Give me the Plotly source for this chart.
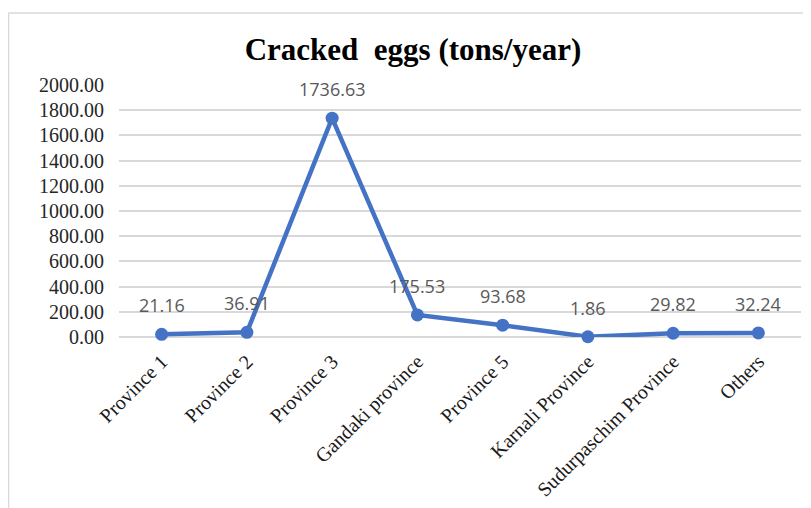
import plotly.graph_objects as go

categories = ["Province 1", "Province 2", "Province 3", "Gandaki province",
              "Province 5", "Karnali Province", "Sudurpaschim Province", "Others"]
values = [21.16, 36.91, 1736.63, 175.53, 93.68, 1.86, 29.82, 32.24]
labels = ["21.16", "36.91", "1736.63", "175.53", "93.68", "1.86", "29.82", "32.24"]
y_ticks = [0, 200, 400, 600, 800, 1000, 1200, 1400, 1600, 1800, 2000]
y_ticktext = ["%.2f" % v for v in y_ticks]

# page body has an 8px margin, so the figure is placed 8px right/down
OFF = 8
W, H = 811 - OFF, 508 - OFF
ML, MR, MT = 119 - OFF, 10, 85 - OFF
PH = 252
MB = H - MT - PH

fig = go.Figure()
fig.add_trace(go.Scatter(
    x=categories, y=values, mode="lines+markers",
    line=dict(color="#4472C4", width=4.5),
    marker=dict(color="#4472C4", size=13),
    cliponaxis=False, hoverinfo="skip", showlegend=False,
))

for c, v, t in zip(categories, values, labels):
    fig.add_annotation(x=c, y=v, text=t, showarrow=False, yshift=29,
                       xanchor="center", yanchor="middle",
                       font=dict(family="Open Sans", size=18, color="#595959"))

pw = W - ML - MR
ph = PH
bx0 = (8.5 - OFF - ML) / pw
by1 = (H - MB - (13 - OFF)) / ph
fig.add_shape(type="line", xref="paper", yref="paper", x0=bx0, x1=(W + 20 - ML) / pw,
              y0=by1, y1=by1, line=dict(color="#d9d9d9", width=1.5), layer="below")
fig.add_shape(type="line", xref="paper", yref="paper", x0=bx0, x1=bx0,
              y0=by1, y1=-(MB + 20) / ph, line=dict(color="#d9d9d9", width=1.5), layer="below")

fig.update_layout(
    width=W, height=H,
    margin=dict(l=ML, r=MR, t=MT, b=MB, autoexpand=False),
    paper_bgcolor="white", plot_bgcolor="white",
    title=dict(text="Cracked&nbsp; eggs (tons/year)", x=(413 - OFF) / W, xanchor="center",
               y=1 - (49 - OFF) / H, yanchor="middle", yref="container",
               font=dict(family="Liberation Serif", size=31, color="black", weight="bold")),
    xaxis=dict(type="category", tickangle=-45, showgrid=False, showline=False,
               ticks="", ticklabelstandoff=8, automargin=False,
               tickfont=dict(family="Liberation Serif", size=20, color="#1a1a1a"),
               range=[-0.5, len(categories) - 0.5]),
    yaxis=dict(range=[0, 2000], tickvals=y_ticks, ticktext=y_ticktext,
               showgrid=True, gridcolor="#d9d9d9", gridwidth=1.5,
               zeroline=True, zerolinecolor="#d9d9d9", zerolinewidth=1.5,
               showline=False, ticks="", ticklabelstandoff=14, automargin=False,
               tickfont=dict(family="Liberation Serif", size=20, color="#262626")),
)

fig.write_html("out.html")
